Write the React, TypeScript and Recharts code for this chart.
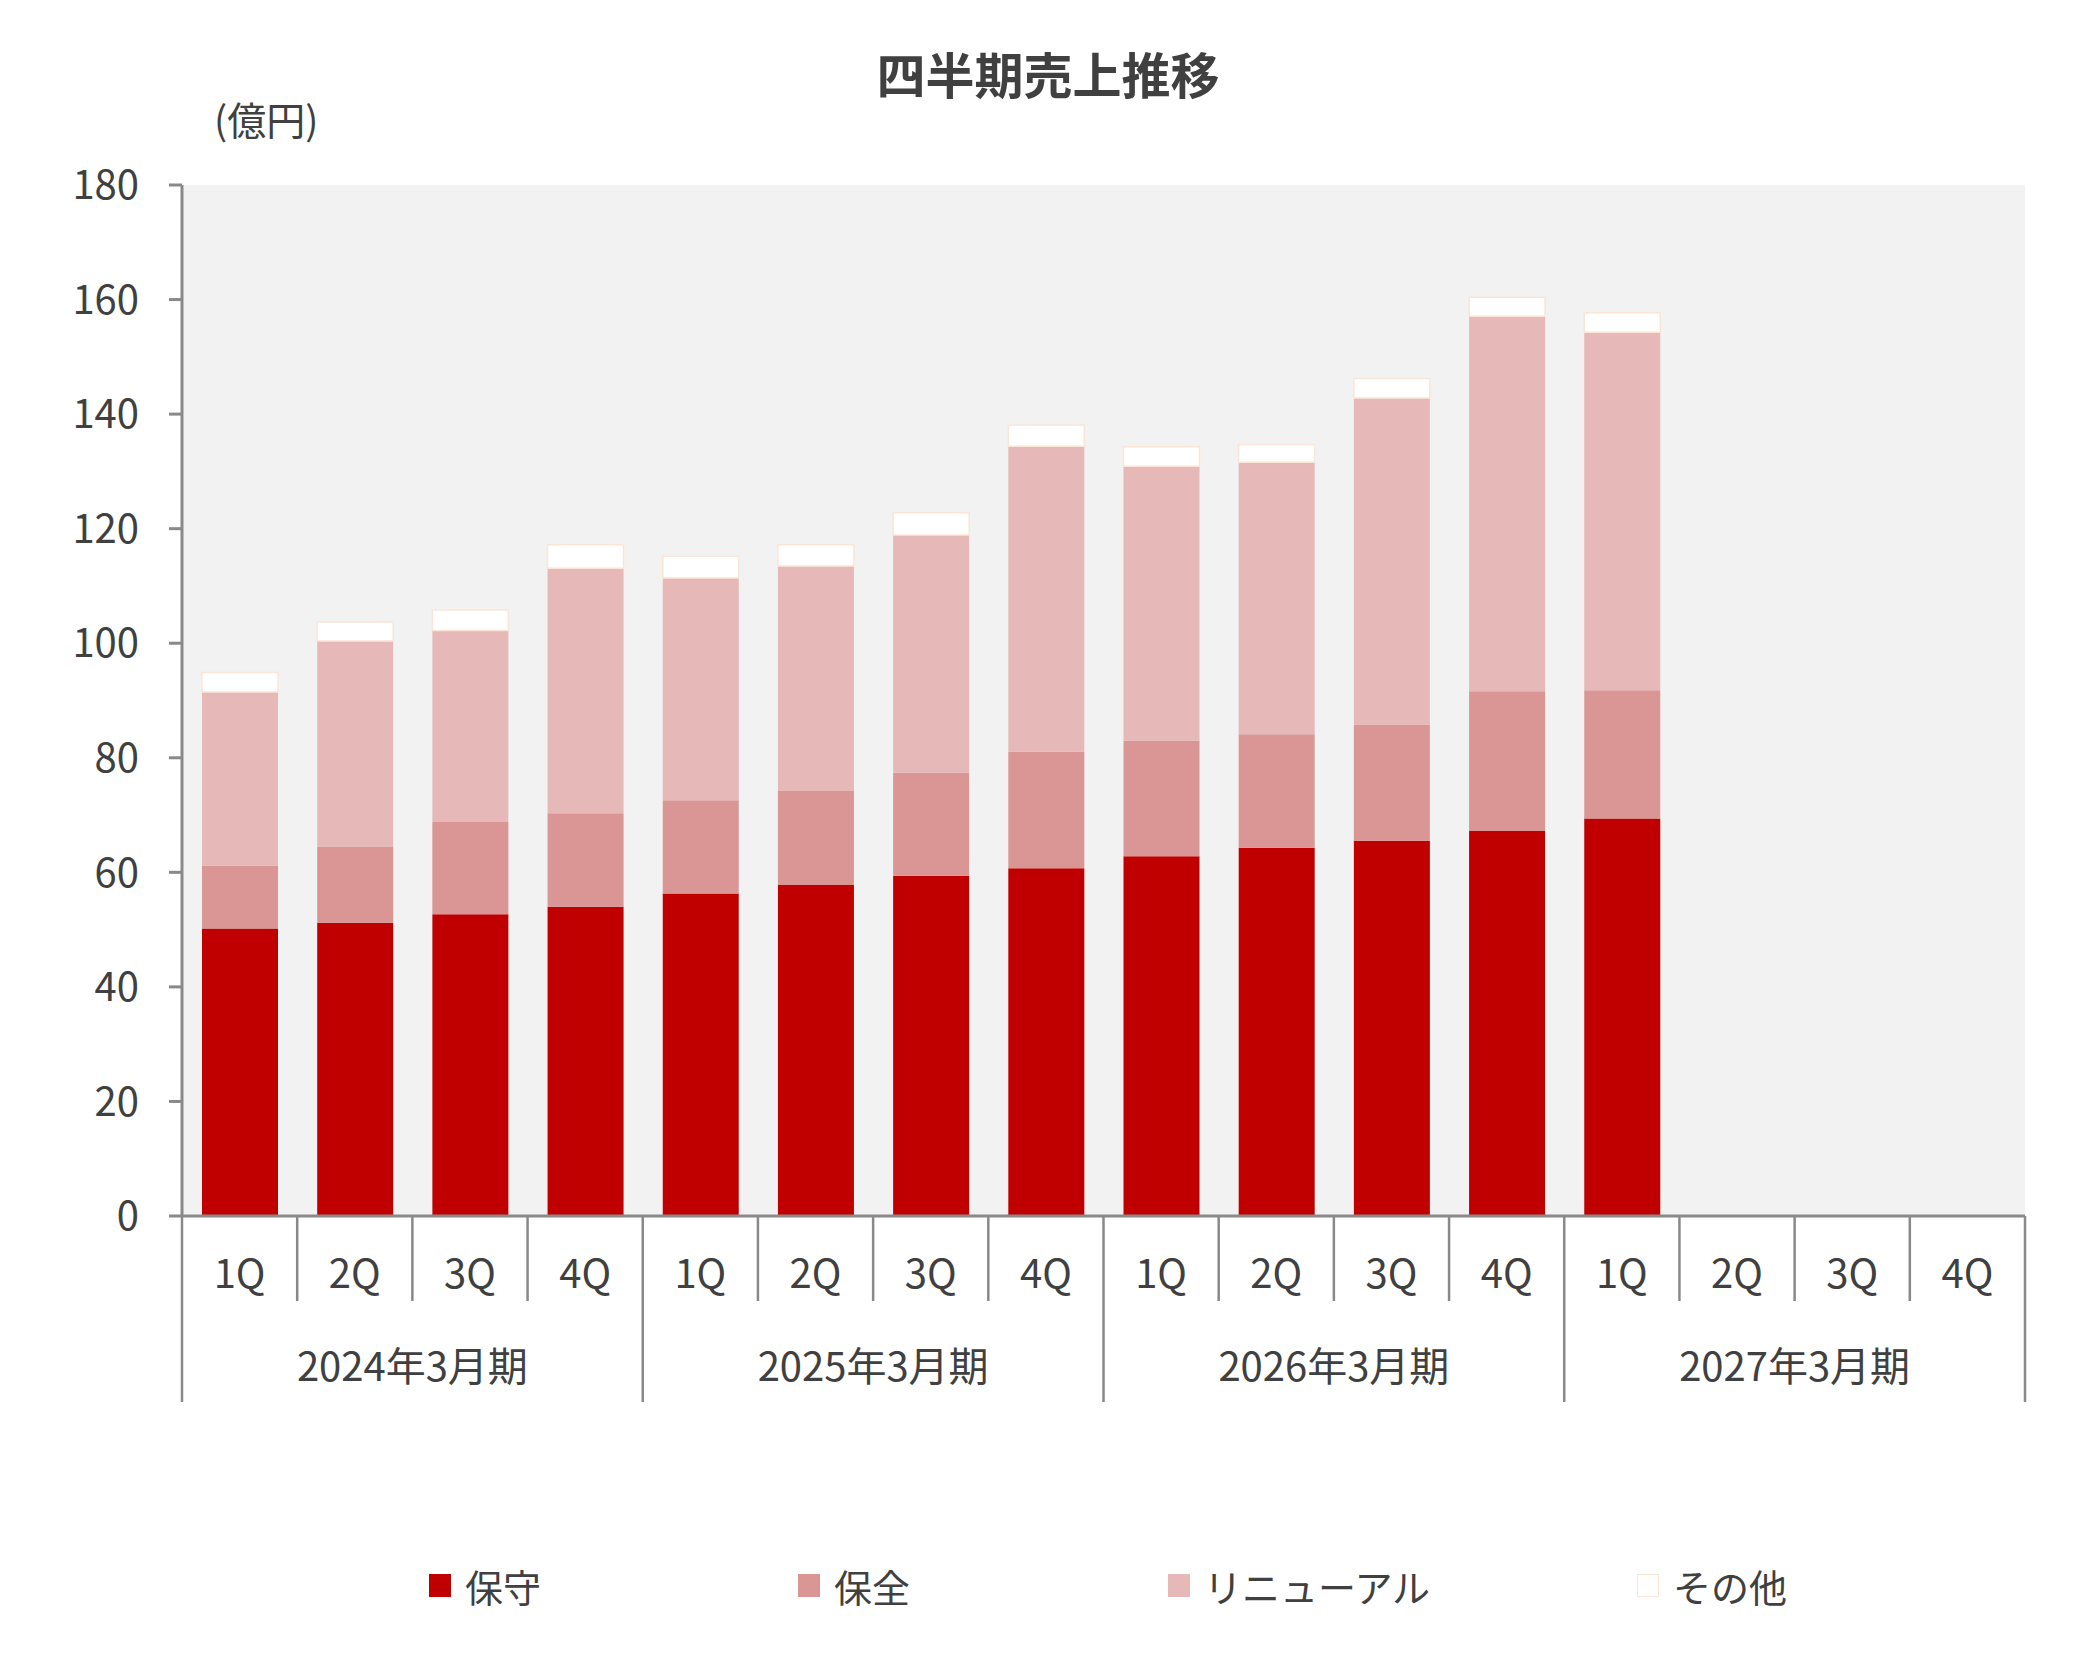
import { BarChart, Bar, XAxis, YAxis, CartesianGrid } from 'recharts'

// quarters on the axis, grouped by fiscal year
const QUARTERS = ['1Q', '2Q', '3Q', '4Q', '1Q', '2Q', '3Q', '4Q', '1Q', '2Q', '3Q', '4Q', '1Q', '2Q', '3Q', '4Q']
const YEARS = ['2024年3月期', '2025年3月期', '2026年3月期', '2027年3月期']
const Y_TICKS = [0, 20, 40, 60, 80, 100, 120, 140, 160, 180]

// stacked segments (億円)
const HOSHU = [50.2, 51.2, 52.7, 54.0, 56.3, 57.8, 59.4, 60.7, 62.8, 64.3, 65.5, 67.2, 69.4]
const HOZEN = [11.0, 13.3, 16.1, 16.3, 16.3, 16.4, 18.0, 20.4, 20.2, 19.8, 20.3, 24.4, 22.4]
const RENEWAL = [30.3, 35.9, 33.4, 42.8, 38.8, 39.3, 41.5, 53.3, 47.9, 47.5, 57.0, 65.5, 62.5]
const OTHER = [3.4, 3.3, 3.6, 4.1, 3.8, 3.7, 3.9, 3.7, 3.4, 3.1, 3.4, 3.3, 3.4]

const SERIES = [
  { key: 'hoshu',   name: '保守',         fill: '#C00000', stroke: 'none' },
  { key: 'hozen',   name: '保全',         fill: '#D99694', stroke: 'none' },
  { key: 'renewal', name: 'リニューアル', fill: '#E6B9B8', stroke: 'none' },
  { key: 'other',   name: 'その他',       fill: '#FFFFFF', stroke: '#FBE5D6' },
]

const data = QUARTERS.map((q, i) => ({
  q,
  hoshu: HOSHU[i] ?? null,
  hozen: HOZEN[i] ?? null,
  renewal: RENEWAL[i] ?? null,
  other: OTHER[i] ?? null,
}))

const W = 2096
const H = 1654
const PLOT_LEFT = 182
const PLOT_RIGHT = 2025
const PLOT_TOP = 185
const PLOT_BOTTOM = 1216
const BAND = (PLOT_RIGHT - PLOT_LEFT) / QUARTERS.length
const AXIS = '#898989'
const TEXT = '#404040'
const FONT = '"Noto Sans CJK JP", "Noto Sans", sans-serif'

const LEGEND_X = [429, 798, 1168, 1637]

function QuarterTick(props: any) {
  const { payload } = props
  const i = props.index ?? payload.index
  const x = payload.coordinate
  const left = x - BAND / 2
  const right = x + BAND / 2
  const isYearStart = i % 4 === 0
  return (
    <g>
      <line x1={left} x2={left} y1={PLOT_BOTTOM} y2={PLOT_BOTTOM + (isYearStart ? 186 : 85)} stroke={AXIS} strokeWidth={2.5} />
      {i === QUARTERS.length - 1 && (
        <line x1={right} x2={right} y1={PLOT_BOTTOM} y2={PLOT_BOTTOM + 186} stroke={AXIS} strokeWidth={2.5} />
      )}
      <text x={x} y={PLOT_BOTTOM + 72} textAnchor="middle" fill={TEXT} fontSize={40} fontFamily={FONT}>
        {payload.value}
      </text>
      {isYearStart && (
        <text x={left + BAND * 2} y={PLOT_BOTTOM + 165} textAnchor="middle" fill={TEXT} fontSize={40} fontFamily={FONT}>
          {YEARS[i / 4]}
        </text>
      )}
    </g>
  )
}

export default function App() {
  return (
    <div style={{ position: 'relative', width: W, height: H, background: '#fff', fontFamily: FONT }}>
      <style>{'body{margin:0}'}</style>
      <div style={{ position: 'absolute', left: 748, width: 600, top: 43, textAlign: 'center', fontSize: 49, fontWeight: 700, color: TEXT, lineHeight: '60px' }}>
        四半期売上推移
      </div>
      <div style={{ position: 'absolute', left: 214, top: 94, fontSize: 39, color: TEXT, lineHeight: '48px' }}>
        (億円)
      </div>
      <BarChart
        width={W}
        height={H}
        data={data}
        barSize={76}
        margin={{ top: PLOT_TOP, right: W - PLOT_RIGHT, bottom: 238, left: 0 }}
      >
        <CartesianGrid fill="#F2F2F2" horizontal={false} vertical={false} stroke="none" />
        <XAxis
          dataKey="q"
          interval={0}
          height={H - PLOT_BOTTOM - 238}
          axisLine={{ stroke: AXIS, strokeWidth: 3 }}
          tickLine={false}
          tick={<QuarterTick />}
        />
        <YAxis
          width={PLOT_LEFT}
          domain={[0, 180]}
          ticks={Y_TICKS}
          interval={0}
          axisLine={{ stroke: AXIS, strokeWidth: 3 }}
          tickLine={{ stroke: AXIS, strokeWidth: 3 }}
          tickSize={13}
          tickMargin={30}
          tick={{ fill: TEXT, fontSize: 40, fontFamily: FONT }}
        />
        {SERIES.map((s) => (
          <Bar
            key={s.key}
            dataKey={s.key}
            name={s.name}
            stackId="a"
            fill={s.fill}
            stroke={s.stroke}
            strokeWidth={1.5}
            isAnimationActive={false}
          />
        ))}
      </BarChart>
      {SERIES.map((s, i) => (
        <div key={s.key} style={{ position: 'absolute', left: LEGEND_X[i], top: 1562, display: 'flex', alignItems: 'center', height: 46 }}>
          <div style={{ width: 22, height: 23, background: s.fill, boxSizing: 'border-box', border: s.stroke === 'none' ? 'none' : `1.5px solid ${s.stroke}` }} />
          <span style={{ marginLeft: 14, fontSize: 38, color: TEXT }}>{s.name}</span>
        </div>
      ))}
    </div>
  )
}
